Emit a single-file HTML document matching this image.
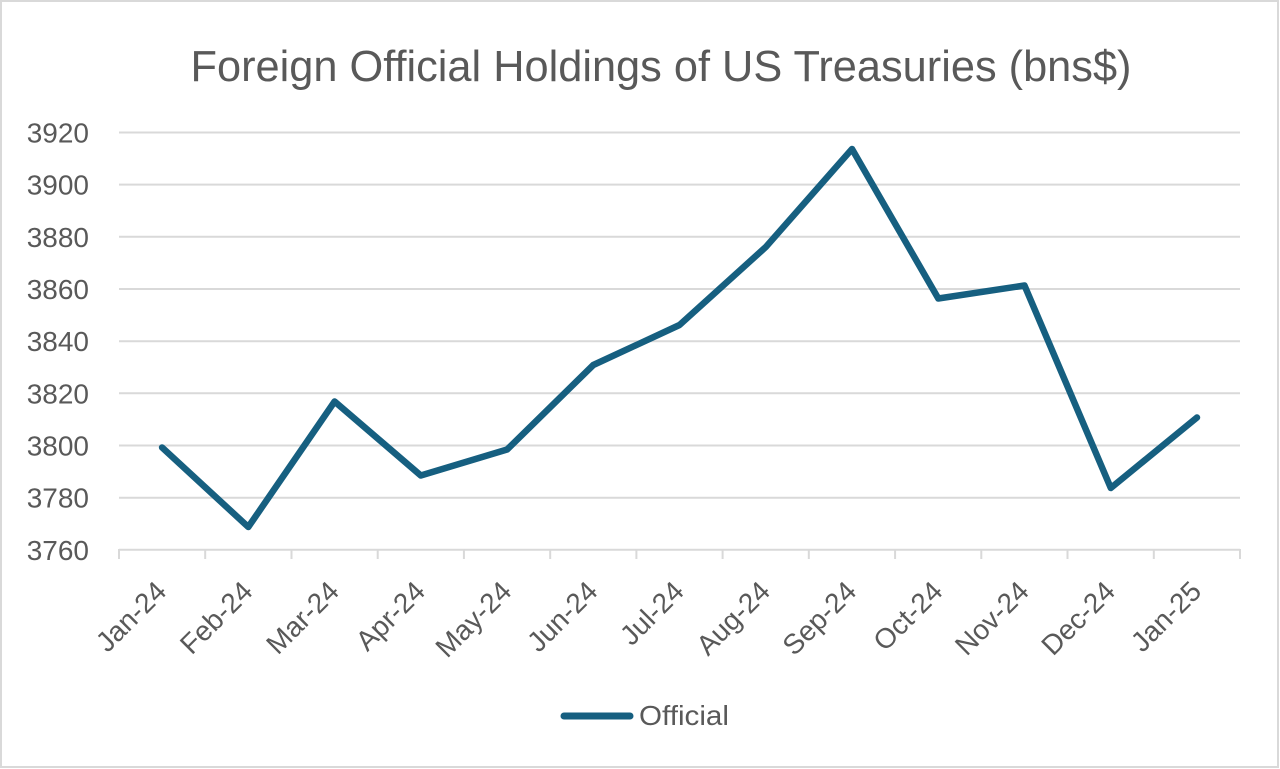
<!DOCTYPE html>
<html>
<head>
<meta charset="utf-8">
<style>
html,body{margin:0;padding:0;background:#fff;}
svg{display:block;}
text{font-family:"Liberation Sans",sans-serif;fill:#595959;}
</style>
</head>
<body>
<svg width="1280" height="769" viewBox="0 0 1280 769" xmlns="http://www.w3.org/2000/svg">
<rect x="0" y="0" width="1280" height="769" fill="#fff"/>
<rect x="1" y="1" width="1277" height="766" fill="none" stroke="#d9d9d9" stroke-width="2"/>
<text x="661" y="81" font-size="44" text-anchor="middle" textLength="941" lengthAdjust="spacingAndGlyphs">Foreign Official Holdings of US Treasuries (bns$)</text>
<g stroke="#d9d9d9" stroke-width="2">
<line x1="119" y1="132.5" x2="1240" y2="132.5"/>
<line x1="119" y1="184.6" x2="1240" y2="184.6"/>
<line x1="119" y1="236.8" x2="1240" y2="236.8"/>
<line x1="119" y1="289" x2="1240" y2="289"/>
<line x1="119" y1="341.2" x2="1240" y2="341.2"/>
<line x1="119" y1="393.3" x2="1240" y2="393.3"/>
<line x1="119" y1="445.5" x2="1240" y2="445.5"/>
<line x1="119" y1="497.7" x2="1240" y2="497.7"/>
<line x1="119" y1="549.8" x2="1240" y2="549.8"/>
<line x1="119" y1="549" x2="119" y2="559"/>
<line x1="205.2" y1="549" x2="205.2" y2="559"/>
<line x1="291.5" y1="549" x2="291.5" y2="559"/>
<line x1="377.7" y1="549" x2="377.7" y2="559"/>
<line x1="463.9" y1="549" x2="463.9" y2="559"/>
<line x1="550.2" y1="549" x2="550.2" y2="559"/>
<line x1="636.4" y1="549" x2="636.4" y2="559"/>
<line x1="722.6" y1="549" x2="722.6" y2="559"/>
<line x1="808.8" y1="549" x2="808.8" y2="559"/>
<line x1="895.1" y1="549" x2="895.1" y2="559"/>
<line x1="981.3" y1="549" x2="981.3" y2="559"/>
<line x1="1067.5" y1="549" x2="1067.5" y2="559"/>
<line x1="1153.8" y1="549" x2="1153.8" y2="559"/>
<line x1="1240" y1="549" x2="1240" y2="559"/>
</g>
<g font-size="28" text-anchor="end">
<text x="89" y="142.5">3920</text>
<text x="89" y="194.6">3900</text>
<text x="89" y="246.8">3880</text>
<text x="89" y="299">3860</text>
<text x="89" y="351.2">3840</text>
<text x="89" y="403.3">3820</text>
<text x="89" y="455.5">3800</text>
<text x="89" y="507.7">3780</text>
<text x="89" y="559.8">3760</text>
</g>
<g font-size="28" text-anchor="end">
<text transform="translate(168,593) rotate(-45)">Jan-24</text>
<text transform="translate(254.3,593) rotate(-45)">Feb-24</text>
<text transform="translate(340.6,593) rotate(-45)">Mar-24</text>
<text transform="translate(426.8,593) rotate(-45)">Apr-24</text>
<text transform="translate(513.1,593) rotate(-45)">May-24</text>
<text transform="translate(599.3,593) rotate(-45)">Jun-24</text>
<text transform="translate(685.5,593) rotate(-45)">Jul-24</text>
<text transform="translate(771.8,593) rotate(-45)">Aug-24</text>
<text transform="translate(858,593) rotate(-45)">Sep-24</text>
<text transform="translate(944.3,593) rotate(-45)">Oct-24</text>
<text transform="translate(1030.5,593) rotate(-45)">Nov-24</text>
<text transform="translate(1116.8,593) rotate(-45)">Dec-24</text>
<text transform="translate(1203,593) rotate(-45)">Jan-25</text>
</g>
<polyline fill="none" stroke="#165f80" stroke-width="6.5" stroke-linejoin="round" stroke-linecap="round"
points="162.1,447.5 248.3,527 334.6,401.5 420.8,475.5 507.1,449.5 593.3,365 679.5,325 765.8,247 852,149 938.3,298.5 1024.5,285.5 1110.8,488 1197,417.5"/>
<line x1="564" y1="716" x2="630" y2="716" stroke="#165f80" stroke-width="7" stroke-linecap="round"/>
<text x="639" y="725" font-size="28" textLength="90" lengthAdjust="spacingAndGlyphs">Official</text>
</svg>
</body>
</html>
